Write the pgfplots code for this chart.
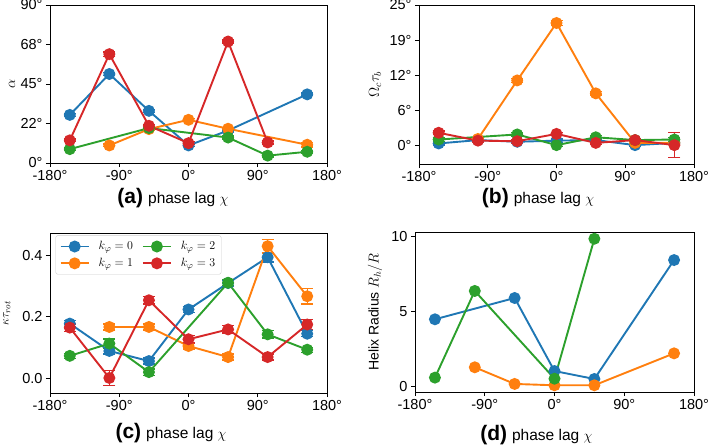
\documentclass[border=0pt]{standalone}
\usepackage{fontspec}
\setmainfont{Liberation Sans}
\usepackage{pgfplots}
\pgfplotsset{compat=1.18}

\definecolor{tabblue}{HTML}{1F77B4}
\definecolor{taborange}{HTML}{FF7F0E}
\definecolor{tabgreen}{HTML}{2CA02C}
\definecolor{tabred}{HTML}{D62728}

\pgfplotsset{
  panel/.style={
    scale only axis, anchor=south west,
    xmin=-180, xmax=180,
    xtick={-180,-90,0,90,180},
    xticklabels={-180°,-90°,0°,90°,180°},
    tick align=outside, xtick pos=left, ytick pos=left,
    major tick length=4pt,
    tick style={black, line width=0.8pt},
    axis line style={line width=0.8pt},
    ticklabel style={font=\fontsize{14.5}{14.5}\selectfont},
    every axis plot/.append style={line width=1.9pt, mark=*, mark size=5pt,
      mark options={solid}},
    error bars/y dir=both, error bars/y explicit,
    error bars/error bar style={line width=1.3pt},
    error bars/error mark options={rotate=90, mark size=6pt, line width=1.3pt},
    ylabel style={at={(axis description cs:0,0.5)}, anchor=center},
  },
}

\newcommand{\plab}[1]{{\fontsize{21}{21}\selectfont\bfseries (#1)}\hspace{5pt}\fontsize{15.5}{15.5}\selectfont phase lag $\chi$}

\begin{document}
\begin{tikzpicture}
\useasboundingbox (0,0) rectangle (709pt,445pt);

% (a)
\begin{axis}[panel, at={(50pt,282pt)}, width=277pt, height=158pt,
  ymin=0, ymax=90, ytick={0,22.5,45,67.5,90},
  yticklabels={0°,22°,45°,68°,90°},
  xlabel={\plab{a}},
  xlabel style={at={(axis description cs:0.444,0)}, anchor=base, yshift=-40pt},
  ylabel={\fontsize{14}{14}\selectfont$\alpha$},
  ylabel style={yshift=38pt}]
\addplot[tabblue] coordinates {(-154.29,27.4) +- (0,0.8) (-102.86,50.7) +- (0,0.8) (-51.43,29.7) +- (0,0.8) (0,10.0) +- (0,0.8) (51.43,18.5) +- (0,0.8) (154.29,39.1) +- (0,0.8)};
\addplot[taborange] coordinates {(-102.86,10.0) +- (0,0.8) (-51.43,19.3) +- (0,0.8) (0,24.6) +- (0,0.8) (51.43,19.5) +- (0,0.8) (154.29,10.4) +- (0,1.3)};
\addplot[tabgreen] coordinates {(-154.29,7.9) +- (0,0.8) (-51.43,19.9) +- (0,0.8) (51.43,14.5) +- (0,0.8) (102.86,4.2) +- (0,0.8) (154.29,6.4) +- (0,0.8)};
\addplot[tabred] coordinates {(-154.29,12.9) +- (0,0.8) (-102.86,62.0) +- (0,1.2) (-51.43,21.2) +- (0,0.8) (0,11.3) +- (0,0.8) (51.43,69.2) +- (0,0.9) (102.86,11.7) +- (0,0.8)};
\end{axis}

% (b)
\begin{axis}[panel, at={(419pt,281pt)}, width=275pt, height=159pt,
  ymin=-3.25, ymax=25, ytick={0,6.25,12.5,18.75,25},
  yticklabels={0°,6°,12°,19°,25°},
  xlabel={\plab{b}},
  xlabel style={at={(axis description cs:0.433,0)}, anchor=base, yshift=-39pt},
  ylabel={\fontsize{14}{14}\selectfont$\Omega_c\tau_b$},
  ylabel style={yshift=44pt}]
\addplot[tabblue] coordinates {(-154.29,0.4) +- (0,0.3) (-102.86,1.0) +- (0,0.3) (-51.43,0.7) +- (0,0.3) (0,0.9) +- (0,0.3) (51.43,1.0) +- (0,0.3) (102.86,0.1) +- (0,0.3) (154.29,0.5) +- (0,0.3)};
\addplot[taborange] coordinates {(-102.86,1.2) +- (0,0.3) (-51.43,11.6) +- (0,0.4) (0,21.8) +- (0,0.4) (51.43,9.3) +- (0,0.3) (102.86,0.5) +- (0,0.3) (154.29,0.5) +- (0,0.3)};
\addplot[tabgreen] coordinates {(-154.29,1.1) +- (0,0.3) (-51.43,2.0) +- (0,0.3) (0,0.1) +- (0,0.3) (51.43,1.5) +- (0,0.3) (102.86,1.0) +- (0,0.3) (154.29,1.1) +- (0,0.3)};
\addplot[tabred] coordinates {(-154.29,2.3) +- (0,0.3) (-102.86,0.9) +- (0,0.3) (-51.43,0.8) +- (0,0.3) (0,2.1) +- (0,0.3) (51.43,0.5) +- (0,0.3) (102.86,1.0) +- (0,0.3) (154.29,0.1) +- (0,2.2)};
\end{axis}

% (c)
\begin{axis}[panel, at={(50pt,52pt)}, width=277pt, height=160pt,
  ymin=-0.048, ymax=0.473, ytick={0,0.2,0.4},
  yticklabels={0.0,0.2,0.4},
  xlabel={\plab{c}},
  xlabel style={at={(axis description cs:0.437,0)}, anchor=base, yshift=-45pt},
  ylabel={\fontsize{12.5}{12.5}\selectfont$\kappa\tau_{rot}$},
  ylabel style={yshift=43pt},
  legend columns=2, transpose legend,
  legend image code/.code={\draw[mark repeat=2, mark phase=2] plot coordinates {(0pt,0pt) (14pt,0pt) (28pt,0pt)};},
  legend style={at={(0.02,0.985)}, anchor=north west, draw=black!20, rounded corners=2pt,
    font=\fontsize{13}{13}\selectfont, column sep=7pt, row sep=3pt,
    inner xsep=4pt, inner ysep=4pt},
  legend cell align=left]
\addplot[tabblue] coordinates {(-154.29,0.178) +- (0,0.01) (-102.86,0.089) +- (0,0.01) (-51.43,0.056) +- (0,0.01) (0,0.224) +- (0,0.01) (51.43,0.31) +- (0,0.01) (102.86,0.394) +- (0,0.015) (154.29,0.145) +- (0,0.01)};
\addplot[taborange] coordinates {(-102.86,0.167) +- (0,0.01) (-51.43,0.167) +- (0,0.01) (0,0.105) +- (0,0.01) (51.43,0.069) +- (0,0.01) (102.86,0.43) +- (0,0.022) (154.29,0.267) +- (0,0.025)};
\addplot[tabgreen] coordinates {(-154.29,0.073) +- (0,0.008) (-102.86,0.113) +- (0,0.015) (-51.43,0.02) +- (0,0.01) (51.43,0.311) +- (0,0.01) (102.86,0.143) +- (0,0.012) (154.29,0.093) +- (0,0.008)};
\addplot[tabred] coordinates {(-154.29,0.165) +- (0,0.012) (-102.86,0.001) +- (0,0.025) (-51.43,0.254) +- (0,0.012) (0,0.127) +- (0,0.012) (51.43,0.159) +- (0,0.012) (102.86,0.069) +- (0,0.01) (154.29,0.175) +- (0,0.017)};
\legend{$k_\varphi=0$,$k_\varphi=1$,$k_\varphi=2$,$k_\varphi=3$}
\end{axis}

% (d)
\begin{axis}[panel, at={(415pt,53pt)}, width=279pt, height=160pt,
  ymin=-0.378, ymax=10.29, ytick={0,5,10},
  yticklabels={0,5,10},
  xlabel={\plab{d}},
  xlabel style={at={(axis description cs:0.435,0)}, anchor=base, yshift=-48pt},
  ylabel={\fontsize{14}{14}\selectfont Helix Radius $R_h/R$},
  ylabel style={yshift=40pt}]
\addplot[tabblue] coordinates {(-154.29,4.47) (-51.43,5.89) (0,1.02) (51.43,0.49) (154.29,8.42)};
\addplot[taborange] coordinates {(-102.86,1.27) (-51.43,0.16) (0,0.07) (51.43,0.07) (154.29,2.2)};
\addplot[tabgreen] coordinates {(-154.29,0.58) (-102.86,6.36) (0,0.51) (51.43,9.84)};
\end{axis}
\end{tikzpicture}
\end{document}
